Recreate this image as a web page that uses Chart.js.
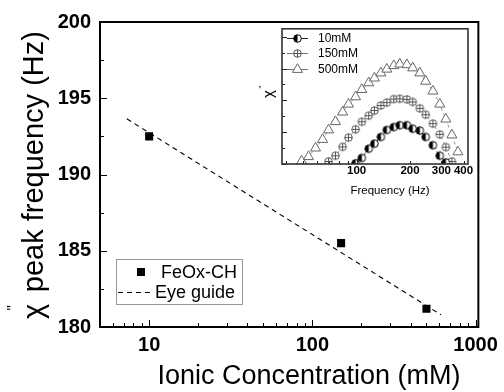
<!DOCTYPE html>
<html>
<head>
<meta charset="utf-8">
<script src="https://cdn.jsdelivr.net/npm/chart.js@4"></script>
<style>
  html, body { margin: 0; padding: 0; background: #fff; }
  #wrap { position: relative; width: 504px; height: 392px; }
  #main { position: absolute; left: 0; top: 0; }
  #inset { position: absolute; left: 250px; top: 22px; }
</style>
</head>
<body>
<div id="wrap">
  <canvas id="main" width="504" height="392"></canvas>
  <canvas id="inset" width="230" height="180"></canvas>
</div>
<script>
// main plot: chi'' peak frequency vs ionic concentration
const concentration = [10, 150, 500];          // mM
const peakFreq = [192.5, 185.5, 181.2];        // Hz
const guideX = [7.3, 614];                     // eye guide ends
const guideY = [193.65, 180.8];
const yTicks = [180, 185, 190, 195, 200];
const xTicks = [10, 100, 1000];

// inset: chi'' (arb. units) vs frequency
const freq = [49, 53.6, 58.7, 64.3, 69.5, 76, 83.4, 90, 98.7, 107, 117, 126, 137,
              148, 162, 175, 192, 207, 227, 245, 269, 294, 318, 344, 372];
const chi500 = [0.09, 0.23, 0.50, 0.77, 1.07, 1.33, 1.63, 1.88, 2.11, 2.34, 2.55, 2.70, 2.86,
                2.98, 3.09, 3.14, 3.12, 3.02, 2.86, 2.60, 2.29, 1.88, 1.41, 0.91, 0.38];
const chi150 = [null, null, null, null, 0.08, 0.26, 0.54, 0.83, 1.09, 1.33, 1.52, 1.68, 1.84,
                1.93, 2.04, 2.05, 2.03, 1.95, 1.75, 1.55, 1.27, 0.93, 0.53, 0.08, null];
const chi10 = [null, null, null, null, null, null, null, null, 0.02, 0.19, 0.48, 0.64, 0.85,
               1.07, 1.16, 1.22, 1.22, 1.11, 1.05, 0.85, 0.59, 0.26, 0.05, null, null];
const insetXTicks = [100, 200, 300, 400];
const insetLabels = ['10mM', '150mM', '500mM'];

const FONT = "'Liberation Sans', Arial, sans-serif";

function halfCircle(r) {
  const c = document.createElement('canvas');
  const s = Math.ceil(r * 2 + 3);
  c.width = c.height = s;
  const g = c.getContext('2d');
  const m = s / 2;
  g.fillStyle = '#fff';
  g.beginPath(); g.arc(m, m, r, 0, Math.PI * 2); g.fill();
  g.fillStyle = '#000';
  g.beginPath(); g.arc(m, m, r, Math.PI / 2, Math.PI * 1.5); g.closePath(); g.fill();
  g.strokeStyle = '#000'; g.lineWidth = 1;
  g.beginPath(); g.arc(m, m, r, 0, Math.PI * 2); g.stroke();
  return c;
}

function circlePlus(r, col) {
  const c = document.createElement('canvas');
  const s = Math.ceil(r * 2 + 3);
  c.width = c.height = s;
  const g = c.getContext('2d');
  const m = s / 2;
  g.fillStyle = '#fff';
  g.strokeStyle = col; g.lineWidth = 1;
  g.beginPath(); g.arc(m, m, r, 0, Math.PI * 2); g.fill(); g.stroke();
  g.beginPath();
  g.moveTo(m - r, m); g.lineTo(m + r, m);
  g.moveTo(m, m - r); g.lineTo(m, m + r);
  g.stroke();
  return c;
}

const halfImg = halfCircle(3.8);
const plusImg = circlePlus(3.8, '#555');

// rotated label: chi with a raised double quote, then the rest
function drawChiLabel(ctx, cx, cy, size, rest, qShift, qRaise) {
  ctx.save();
  ctx.translate(cx, cy);
  ctx.rotate(-Math.PI / 2);
  ctx.fillStyle = '#000';
  ctx.textBaseline = 'alphabetic';
  ctx.textAlign = 'left';
  const big = size + 'px ' + FONT;
  const small = Math.round(size * 0.5) + 'px ' + FONT;
  ctx.font = big;
  const wChi = ctx.measureText('\u03c7').width;
  const wRest = rest ? ctx.measureText(rest).width : 0;
  const gap = rest ? size * 0.12 : 0;
  const total = wChi + gap + wRest;
  let x = -total / 2;
  const base = size * 0.35;
  ctx.fillText('\u03c7', x, base);
  ctx.font = small;
  ctx.fillText('"', x + wChi * qShift, base - size * qRaise);
  ctx.font = big;
  if (rest) ctx.fillText(rest, x + wChi + gap, base);
  ctx.restore();
}

const mainDecor = {
  id: 'mainDecor',
  afterDraw(chart) {
    const { ctx, chartArea: a } = chart;
    const x = chart.scales.x, y = chart.scales.y;
    ctx.save();
    ctx.strokeStyle = '#000';
    ctx.lineWidth = 1;
    ctx.beginPath();
    for (let v = 180; v <= 200; v += 2.5) {
      const py = Math.round(y.getPixelForValue(v)) + 0.5;
      const len = v % 5 === 0 ? 7 : 4;
      ctx.moveTo(a.left, py); ctx.lineTo(a.left + len, py);
    }
    for (let d = 1; d <= 1000; d *= 10) {
      for (let m = 1; m < 10; m++) {
        const v = d * m;
        if (v < x.min || v > x.max) continue;
        const px = Math.round(x.getPixelForValue(v)) + 0.5;
        const len = m === 1 ? 7 : 4;
        ctx.moveTo(px, a.bottom); ctx.lineTo(px, a.bottom - len);
      }
    }
    ctx.stroke();
    ctx.lineWidth = 2;
    ctx.strokeRect(a.left, a.top, a.right - a.left, a.bottom - a.top);

    // axis titles
    ctx.fillStyle = '#000';
    ctx.font = '27px ' + FONT;
    ctx.textAlign = 'center';
    ctx.textBaseline = 'middle';
    ctx.fillText('Ionic Concentration (mM)', 309, 377);
    drawChiLabel(ctx, 33, 175, 29, ' peak frequency (Hz)', 0.55, 0.9);

    // legend
    ctx.lineWidth = 1;
    ctx.strokeStyle = '#999';
    ctx.strokeRect(116.5, 259.5, 126, 45);
    ctx.fillStyle = '#000';
    ctx.fillRect(137, 268, 8, 8);
    ctx.font = '18px ' + FONT;
    ctx.textAlign = 'left';
    ctx.textBaseline = 'middle';
    ctx.fillText(chart.data.datasets[0].label, 161, 273);
    ctx.strokeStyle = '#000';
    ctx.setLineDash([5, 4]);
    ctx.beginPath(); ctx.moveTo(118, 292.5); ctx.lineTo(150, 292.5); ctx.stroke();
    ctx.setLineDash([]);
    ctx.fillText(chart.data.datasets[1].label, 155, 293);
    ctx.restore();
  }
};

new Chart(document.getElementById('main'), {
  type: 'scatter',
  data: {
    datasets: [
      {
        label: 'FeOx-CH',
        data: concentration.map((c, i) => ({ x: c, y: peakFreq[i] })),
        pointStyle: 'rect',
        pointRadius: 5.7,
        backgroundColor: '#000',
        borderWidth: 0
      },
      {
        label: 'Eye guide',
        data: guideX.map((g, i) => ({ x: g, y: guideY[i] })),
        showLine: true,
        pointRadius: 0,
        borderColor: '#000',
        borderWidth: 1.1,
        borderDash: [5, 4]
      }
    ]
  },
  options: {
    responsive: false,
    devicePixelRatio: 1,
    animation: false,
    layout: { padding: { top: 22, right: 24, left: 0, bottom: 0 } },
    plugins: { legend: { display: false }, tooltip: { enabled: false } },
    scales: {
      x: {
        type: 'logarithmic',
        min: 5,
        max: 1040,
        grid: { display: false, drawTicks: false },
        border: { display: false },
        afterBuildTicks: s => { s.ticks = xTicks.map(v => ({ value: v })); },
        afterFit: s => { s.height = 65; },
        ticks: {
          color: '#000',
          font: { family: FONT, size: 20, weight: 'bold' },
          padding: 6,
          maxRotation: 0,
          autoSkip: false,
          callback: v => String(v)
        }
      },
      y: {
        min: 180,
        max: 200,
        grid: { display: false, drawTicks: false },
        border: { display: false },
        afterBuildTicks: s => { s.ticks = yTicks.map(v => ({ value: v })); },
        afterFit: s => { s.width = 100; },
        ticks: {
          color: '#000',
          font: { family: FONT, size: 20, weight: 'bold' },
          padding: 9,
          callback: v => String(v)
        }
      }
    }
  },
  plugins: [mainDecor]
});

const insetDecor = {
  id: 'insetDecor',
  afterDraw(chart) {
    const { ctx, chartArea: a } = chart;
    const x = chart.scales.x, y = chart.scales.y;
    ctx.save();
    ctx.strokeStyle = '#222';
    ctx.lineWidth = 1;
    ctx.beginPath();
    for (let v = 0; v <= y.max; v += 0.5) {
      const py = Math.round(y.getPixelForValue(v)) + 0.5;
      const len = v % 1 === 0 ? 5 : 3;
      ctx.moveTo(a.left, py); ctx.lineTo(a.left + len, py);
    }
    for (let d = 10; d <= 100; d *= 10) {
      for (let m = 1; m < 10; m++) {
        const v = d * m;
        if (v < x.min || v > x.max) continue;
        const px = Math.round(x.getPixelForValue(v)) + 0.5;
        const len = v === 100 ? 5 : 3;
        ctx.moveTo(px, a.bottom); ctx.lineTo(px, a.bottom - len);
      }
    }
    ctx.stroke();
    ctx.lineWidth = 1.6;
    ctx.strokeStyle = '#333';
    ctx.strokeRect(a.left, a.top, a.right - a.left, a.bottom - a.top);

    ctx.fillStyle = '#000';
    ctx.font = '11.5px ' + FONT;
    ctx.textAlign = 'center';
    ctx.textBaseline = 'middle';
    ctx.fillText('Frequency (Hz)', 140, 169);
    drawChiLabel(ctx, 18, 72, 15, '', 1.2, 0.6);

    // legend: line through marker
    const rows = [16, 31, 47];
    ctx.font = '12px ' + FONT;
    ctx.textAlign = 'left';
    chart.data.datasets.forEach((ds, i) => {
      const ry = rows[i];
      ctx.strokeStyle = ds.borderColor;
      ctx.lineWidth = 1;
      ctx.beginPath(); ctx.moveTo(37, ry + 0.5); ctx.lineTo(58, ry + 0.5); ctx.stroke();
      ctx.fillStyle = ds.pointBackgroundColor || '#fff';
      ctx.strokeStyle = ds.pointBorderColor || ds.borderColor;
      Chart.helpers.drawPoint(ctx, {
        pointStyle: ds.pointStyle,
        radius: ds.pointRadius,
        rotation: 0,
        borderWidth: 1
      }, 47.5, ry + 0.5);
      ctx.fillStyle = '#000';
      ctx.fillText(ds.label, 68, ry + 1);
    });
    ctx.restore();
  }
};

new Chart(document.getElementById('inset'), {
  type: 'line',
  data: {
    datasets: [
      {
        label: insetLabels[0],
        data: freq.map((f, i) => ({ x: f, y: chi10[i] })),
        pointStyle: halfImg,
        pointRadius: 3.8,
        borderColor: '#222',
        borderWidth: 0.8,
        borderDash: [3, 3]
      },
      {
        label: insetLabels[1],
        data: freq.map((f, i) => ({ x: f, y: chi150[i] })),
        pointStyle: plusImg,
        pointRadius: 3.8,
        borderColor: '#777',
        borderWidth: 0.8,
        borderDash: [3, 3]
      },
      {
        label: insetLabels[2],
        data: freq.map((f, i) => ({ x: f, y: chi500[i] })),
        pointStyle: 'triangle',
        pointRadius: 5.8,
        pointBackgroundColor: '#fff',
        pointBorderColor: '#666',
        pointBorderWidth: 1,
        borderColor: '#777',
        borderWidth: 0.8,
        borderDash: [3, 3]
      }
    ]
  },
  options: {
    responsive: false,
    devicePixelRatio: 1,
    animation: false,
    layout: { padding: { top: 5, right: 12, left: 0, bottom: 0 } },
    plugins: { legend: { display: false }, tooltip: { enabled: false } },
    scales: {
      x: {
        type: 'logarithmic',
        min: 38,
        max: 424,
        grid: { display: false, drawTicks: false },
        border: { display: false },
        afterBuildTicks: s => { s.ticks = insetXTicks.map(v => ({ value: v })); },
        afterFit: s => { s.height = 38; },
        ticks: {
          color: '#000',
          font: { family: FONT, size: 11.5, weight: 'bold' },
          padding: 0,
          maxRotation: 0,
          autoSkip: false,
          callback: v => String(v)
        }
      },
      y: {
        min: 0,
        max: 4.25,
        grid: { display: false, drawTicks: false },
        border: { display: false },
        afterFit: s => { s.width = 32; },
        ticks: { display: false }
      }
    }
  },
  plugins: [insetDecor]
});
</script>
</body>
</html>
